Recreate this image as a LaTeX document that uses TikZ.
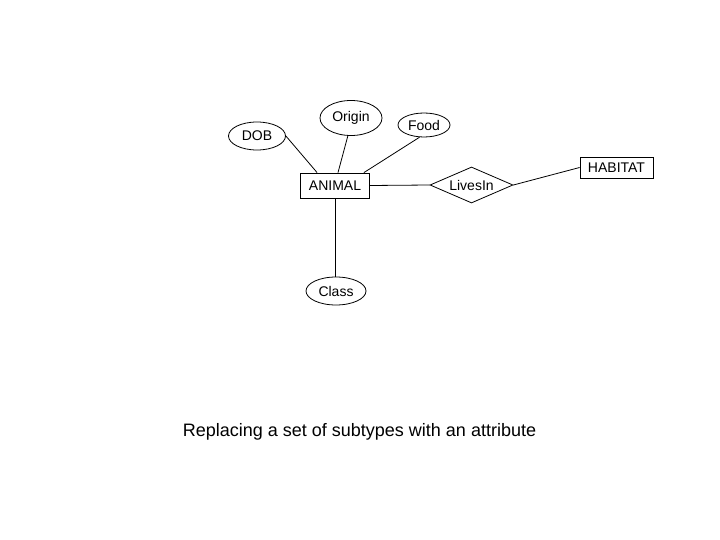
\documentclass[tikz,border=0pt]{standalone}
\usepackage{fontspec}
\setmainfont{Liberation Sans}
\usepackage{tikz}
\usetikzlibrary{shapes.geometric,positioning,calc}

\begin{document}
\begin{tikzpicture}[x=1pt,y=-1pt,line width=0.8pt,
		attr/.style={draw,ellipse,inner sep=0pt,font=\fontsize{14}{16}\selectfont},
		entity/.style={draw,rectangle,inner sep=0pt,font=\fontsize{14}{16}\selectfont},
		rel/.style={draw,diamond,aspect=2.3,inner sep=0pt,font=\fontsize{14}{16}\selectfont}]
	\useasboundingbox (0,0) rectangle (720,540);
	% entities
	\node[entity,minimum width=69pt,minimum height=25pt] (animal) at (335,185.5) {ANIMAL};
	\node[entity,minimum width=73pt,minimum height=21pt] (habitat) at (616.5,167.5) {HABITAT};
	% relationship
	\node[rel,minimum width=83pt,minimum height=36pt] (livesin) at (471.5,185) {LivesIn};
	% attributes
	\node[attr,minimum width=57pt,minimum height=28pt] (dob) at (257,136) {DOB};
	\node[attr,minimum width=62pt,minimum height=35pt] (origin) at (351,118) {Origin};
	\node[attr,minimum width=52pt,minimum height=24pt] (food) at (424,125) {Food};
	\node[attr,minimum width=60pt,minimum height=28pt] (class) at (336,291) {Class};
	% connectors
	\draw (dob.east) -- ([xshift=17pt]animal.north west);
	\draw (origin.-100) -- ([xshift=3pt]animal.north);
	\draw (food.-110) -- ([xshift=-6pt]animal.north east);
	\draw (animal.east) -- (livesin.west);
	\draw (livesin.east) -- (habitat.west);
	\draw (animal.south) -- (animal.south |- class.north);
	% caption
	\node[font=\fontsize{18}{21}\selectfont] (caption) at (359.5,432) {Replacing a set of subtypes with an attribute};
\end{tikzpicture}
\end{document}
